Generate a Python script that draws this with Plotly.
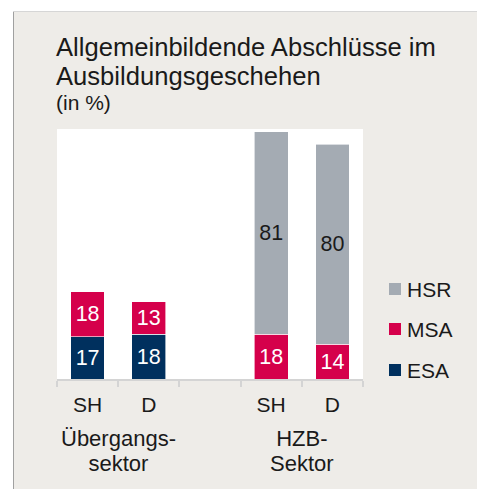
import plotly.graph_objects as go

# Series values (percent), by sector and region
sectors = ["Übergangs-<br>sektor", "HZB-<br>Sektor"]
regions = ["SH", "D"]
bar_keys = ["UE-SH", "UE-D", "HZB-SH", "HZB-D"]
category_order = ["UE-SH", "UE-D", "gap", "HZB-SH", "HZB-D"]
tick_labels = ["SH", "D", "", "SH", "D"]

esa = [17, 18, None, None]
msa = [18, 13, 18, 14]
hsr = [None, None, 81, 80]

series_names = ["ESA", "MSA", "HSR"]
series_values = [esa, msa, hsr]
series_colors = ["#00305E", "#D5004B", "#A4ABB3"]
label_colors = ["#FFFFFF", "#FFFFFF", "#1A1A1A"]

title_lines = ["Allgemeinbildende Abschlüsse im", "Ausbildungsgeschehen"]
unit_line = "(in %)"

FONT = "Liberation Sans"
TEXT = "#1A1A1A"
BG = "#EEECE8"

W, H = 477, 489
ML, MR, MT, MB = 57, 114, 129, 110
PW, PH = W - ML - MR, H - MT - MB


def px_x(x):
    return (x - ML) / PW


def px_y(y):
    return 1 - (y - MT) / PH


fig = go.Figure()
for name, vals, col, tcol in zip(series_names, series_values, series_colors, label_colors):
    fig.add_trace(go.Bar(
        name=name,
        x=bar_keys,
        y=vals,
        width=0.55,
        marker=dict(color=col, line=dict(color="#FFFFFF", width=0.6)),
        texttemplate="%{y}",
        textposition="inside",
        insidetextanchor="middle",
        textangle=0,
        constraintext="none",
        textfont=dict(family=FONT, size=21.5, color=tcol),
        showlegend=False,
        hoverinfo="skip",
    ))

shapes = [
    # white outer margin and frame lines
    dict(type="rect", xref="paper", yref="paper", x0=px_x(-5), x1=px_x(13), y0=px_y(H + 5), y1=px_y(-5),
         fillcolor="#FFFFFF", line=dict(width=0)),
    dict(type="rect", xref="paper", yref="paper", x0=px_x(-5), x1=px_x(W + 5), y0=px_y(11), y1=px_y(-5),
         fillcolor="#FFFFFF", line=dict(width=0)),
    dict(type="line", xref="paper", yref="paper", x0=px_x(13.5), x1=px_x(13.5), y0=px_y(11), y1=px_y(H + 5),
         line=dict(color="#A0A0A0", width=1)),
    dict(type="line", xref="paper", yref="paper", x0=px_x(13), x1=px_x(W + 5), y0=px_y(11.5), y1=px_y(11.5),
         line=dict(color="#D6D6D6", width=1)),
]

# title lines and unit line
annotations = [
    dict(text=title_lines[0], x=px_x(55), y=px_y(47.0), xanchor="left", yanchor="middle",
         font=dict(family=FONT, size=25.6, color=TEXT)),
    dict(text=title_lines[1], x=px_x(55), y=px_y(76.4), xanchor="left", yanchor="middle",
         font=dict(family=FONT, size=25.6, color=TEXT)),
    dict(text=unit_line, x=px_x(55), y=px_y(102.8), xanchor="left", yanchor="middle",
         font=dict(family=FONT, size=21, color=TEXT)),
]

# sector labels under the region ticks
for i, sec in enumerate(sectors):
    lines = sec.split("<br>")
    annotations.append(dict(
        text="<br>".join(f"<span style='font-size:22px'>{ln}</span>" for ln in lines),
        xref="x", x=0.5 + 3 * i, y=px_y(450.5), yanchor="middle", xanchor="center",
        font=dict(family=FONT, size=19.3, color=TEXT), align="center",
    ))

# legend: top to bottom HSR, MSA, ESA
legend_y = [370, 329, 289]
for name, col, ly in zip(series_names, series_colors, legend_y):
    shapes.append(dict(type="rect", xref="paper", yref="paper", x0=px_x(389), x1=px_x(401),
                       y0=px_y(ly + 6), y1=px_y(ly - 6), fillcolor=col, line=dict(width=0)))
    annotations.append(dict(text=name, x=px_x(406), y=px_y(ly), xanchor="left", yanchor="middle",
                            font=dict(family=FONT, size=21, color=TEXT)))

for a in annotations:
    a.setdefault("xref", "paper")
    a.setdefault("yref", "paper")
    a["showarrow"] = False
    a["borderpad"] = 0

fig.update_layout(
    width=W, height=H,
    margin=dict(l=ML, r=MR, t=MT, b=MB, pad=0, autoexpand=False),
    paper_bgcolor=BG, plot_bgcolor="#FFFFFF",
    barmode="stack", bargap=0.45,
    font=dict(family=FONT, color=TEXT),
    shapes=shapes, annotations=annotations,
    uniformtext=dict(mode=False),
)
fig.update_xaxes(
    type="category", categoryorder="array", categoryarray=category_order,
    tickvals=category_order, ticktext=tick_labels,
    range=[-0.5, 4.5], tickson="boundaries", ticks="outside", ticklen=6, tickwidth=2,
    tickcolor="#D4D4D4", showline=True, linecolor="#D4D4D4", linewidth=2,
    showgrid=False, zeroline=False, ticklabelstandoff=6,
    tickfont=dict(family=FONT, size=21, color=TEXT),
)
fig.update_yaxes(range=[0, 100], visible=False, showgrid=False, zeroline=False)

fig.write_html("out.html")
